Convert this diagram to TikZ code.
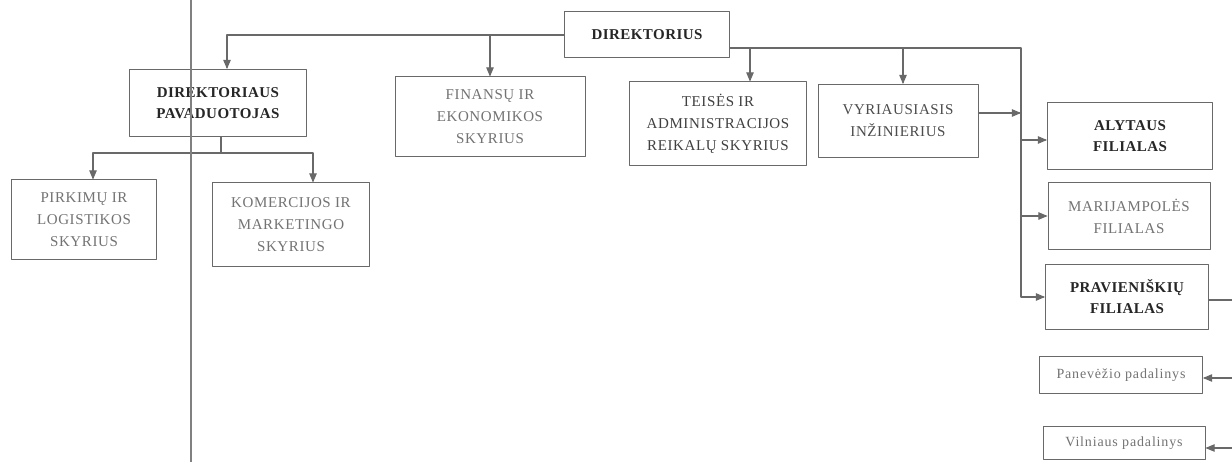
\documentclass[tikz,border=0pt]{standalone}
\usepackage[svgnames]{xcolor}
\usepackage{fontspec}
\setmainfont{Liberation Serif}
\usepackage{tikz}
\usetikzlibrary{arrows}
\usetikzlibrary{calc}

\tikzset{
  unit/.style={draw=DimGray,line width=1pt,fill=white,align=center,inner sep=2pt,
    font=\fontsize{15}{22}\selectfont\addfontfeatures{LetterSpace=4},text=black!55},
  headunit/.style={unit,font=\bfseries\fontsize{15}{21}\selectfont\addfontfeatures{LetterSpace=3},text=black!85},
  smallunit/.style={unit,font=\fontsize{14}{16}\selectfont\addfontfeatures{LetterSpace=6},text=black!55},
  link/.style={->,line width=1.1pt,color=DimGray}
}

\begin{document}
\begin{tikzpicture}[line cap=round,line join=round,>=triangle 45,x=1pt,y=-1pt]
\clip (0,0) rectangle (1232,462);
\fill[white] (0,0) rectangle (1232,462);
% units
\node[headunit,minimum width=165,minimum height=46] (dir) at (647,35) {DIREKTORIUS};
\node[headunit,minimum width=177,minimum height=67] (pav) at (218,103) {DIREKTORIAUS\\PAVADUOTOJAS};
\node[unit,minimum width=190,minimum height=80] (fin) at (490,117) {FINANSŲ IR\\EKONOMIKOS\\SKYRIUS};
\node[unit,text=black!75,minimum width=177,minimum height=84] (teis) at (718,124) {TEISĖS IR\\ADMINISTRACIJOS\\REIKALŲ SKYRIUS};
\node[unit,text=black!70,minimum width=160,minimum height=73] (vyr) at (898,121) {VYRIAUSIASIS\\INŽINIERIUS};
\node[headunit,minimum width=165,minimum height=67] (aly) at (1130,136) {ALYTAUS\\FILIALAS};
\node[unit,minimum width=162,minimum height=67] (mar) at (1129,216) {MARIJAMPOLĖS\\FILIALAS};
\node[headunit,minimum width=163,minimum height=65] (prav) at (1127,297) {PRAVIENIŠKIŲ\\FILIALAS};
\node[smallunit,minimum width=163,minimum height=36] (pan) at (1121,375) {Panevėžio padalinys};
\node[smallunit,minimum width=162,minimum height=33] (vil) at (1124,443) {Vilniaus padalinys};
\node[unit,minimum width=145,minimum height=80] (pirk) at (84,220) {PIRKIMŲ IR\\LOGISTIKOS\\SKYRIUS};
\node[unit,minimum width=157,minimum height=84] (kom) at (291,225) {KOMERCIJOS IR\\MARKETINGO\\SKYRIUS};
% helper points
\coordinate (bus) at (1021,48);
\coordinate (edge) at (1240,0);
\coordinate (teisin) at ([xshift=32pt]teis.north);
\coordinate (vyrin) at ([xshift=5pt]vyr.north);
\coordinate (vyrout) at ([yshift=8pt]vyr.east);
\coordinate (alyin) at ([yshift=-4pt]aly.west);
\coordinate (pavin) at ([xshift=9pt]pav.north);
\coordinate (split) at ([xshift=3pt,yshift=-16pt]pav.south);
% connectors
\draw[link] (dir.west) -| (pavin);
\draw[link] (fin.north |- dir.west) -- (fin.north);
\draw[link] ([yshift=-13pt]dir.east) -| (bus |- prav.west) -- (prav.west);
\draw[link] (teisin |- bus) -- (teisin);
\draw[link] (vyrin |- bus) -- (vyrin);
\draw[link] (vyrout) -- (vyrout -| bus);
\draw[link] (alyin -| bus) -- (alyin);
\draw[link] (bus |- mar.west) -- (mar.west);
\draw[line width=1.1pt,color=DimGray] ([yshift=-3pt]prav.east) -- ([yshift=-3pt]prav.east -| edge);
\draw[link] ([yshift=-3pt]pan.east -| edge) -- ([yshift=-3pt]pan.east);
\draw[link] ([yshift=-5pt]vil.east -| edge) -- ([yshift=-5pt]vil.east);
\draw[line width=1.1pt,color=DimGray] (split |- pav.south) -- (split);
\draw[link] (split) -| ([xshift=9pt]pirk.north);
\draw[link] (split) -| ([xshift=22pt]kom.north);
% scan line
\draw[line width=1.2pt,color=Gray] (191,0) -- (191,462);
\end{tikzpicture}
\end{document}
